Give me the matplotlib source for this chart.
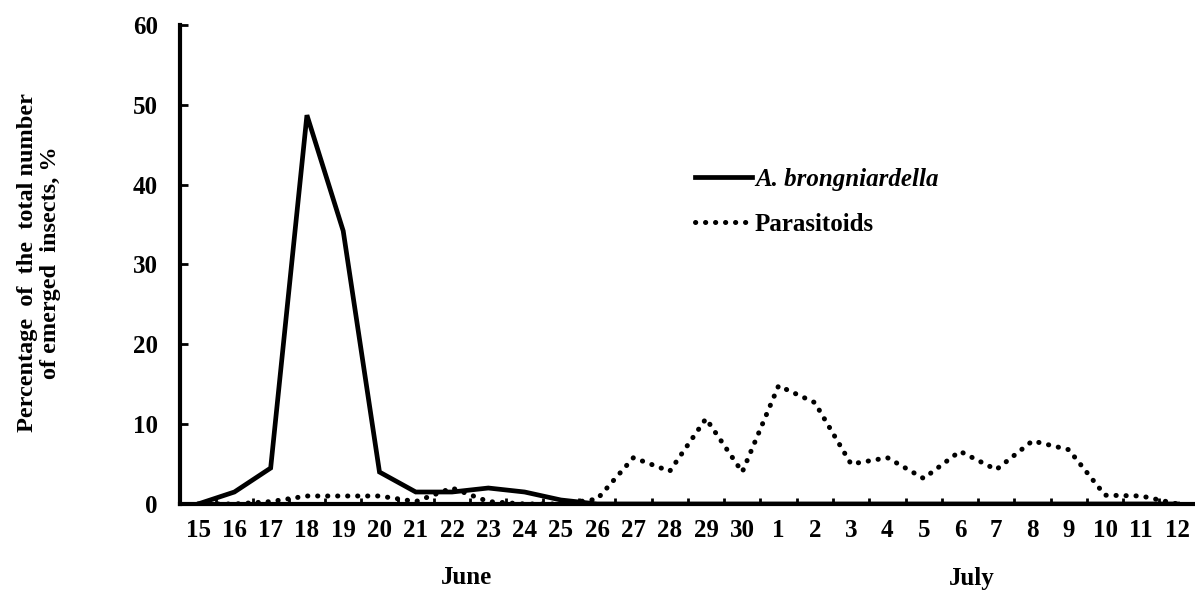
import matplotlib
matplotlib.use('Agg')
import matplotlib.pyplot as plt
import numpy as np

days = ['15', '16', '17', '18', '19', '20', '21', '22', '23', '24', '25', '26', '27', '28',
        '29', '30', '1', '2', '3', '4', '5', '6', '7', '8', '9', '10', '11', '12']
brongniardella = [0, 1.5, 4.5, 48.7, 34.2, 4.0, 1.5, 1.5, 2.0, 1.5, 0.5, 0, 0, 0,
                  0, 0, 0, 0, 0, 0, 0, 0, 0, 0, 0, 0, 0, 0]
parasitoids = [0, 0, 0.3, 1.0, 1.0, 1.0, 0.3, 2.0, 0.3, 0, 0, 0.6, 5.8, 4.1,
               10.7, 4.0, 14.8, 12.7, 5.0, 5.8, 3.2, 6.6, 4.3, 7.9, 6.8, 1.1, 1.0, 0]
months = ['June', 'July']

plt.rcParams['font.family'] = ['Liberation Serif', 'DejaVu Serif']
plt.rcParams['font.weight'] = 'bold'

fig = plt.figure(figsize=(11.95, 5.9), dpi=100)
ax = fig.add_axes([0.1506, 0.1458, 0.85, 0.8119])

x = np.arange(len(days)) + 0.5
ax.plot(x, brongniardella, '-', color='black', linewidth=3.4,
        solid_joinstyle='miter', label='A. brongniardella')
ax.plot(x, parasitoids, color='black', linewidth=3.6, linestyle=(0, (0.05, 1.95)),
        dash_capstyle='round', label='Parasitoids')

ax.set_xlim(0, len(days))
ax.set_ylim(0, 60)
ax.set_yticks(range(0, 61, 10))
ax.set_xticks(np.arange(0, len(days) + 1), minor=False)
ax.set_xticklabels([])
ax.set_xticks(x, minor=True)
ax.set_xticklabels(days, minor=True)

ax.tick_params(axis='x', which='major', direction='in', length=4, width=2)
ax.tick_params(axis='x', which='minor', length=0, pad=11, labelsize=18)
ax.tick_params(axis='y', direction='in', length=6, width=2, pad=16, labelsize=18)

for side in ['top', 'right']:
    ax.spines[side].set_visible(False)
ax.spines['left'].set_linewidth(3)
ax.spines['bottom'].set_linewidth(3)

leg = ax.legend(loc='upper left', bbox_to_anchor=(0.507, 0.702), frameon=False, borderpad=0,
                borderaxespad=0, fontsize=18, handlelength=2.3, handletextpad=0.1,
                labelspacing=0.9)
leg.get_texts()[0].set_style('italic')

fig.text(467 / 1195, 1 - 578 / 590, months[0], ha='center', va='center', fontsize=18, fontweight='bold')
fig.text(972 / 1195, 1 - 578 / 590, months[1], ha='center', va='center', fontsize=18, fontweight='bold')

fig.text(39 / 1195, 1 - 263 / 590, 'Percentage  of  the  total number\nof emerged  insects, %',
         rotation=90, ha='center', va='center', fontsize=17.5, fontweight='bold',
         multialignment='center', linespacing=1.1)

fig.savefig('out.png', dpi=100)
